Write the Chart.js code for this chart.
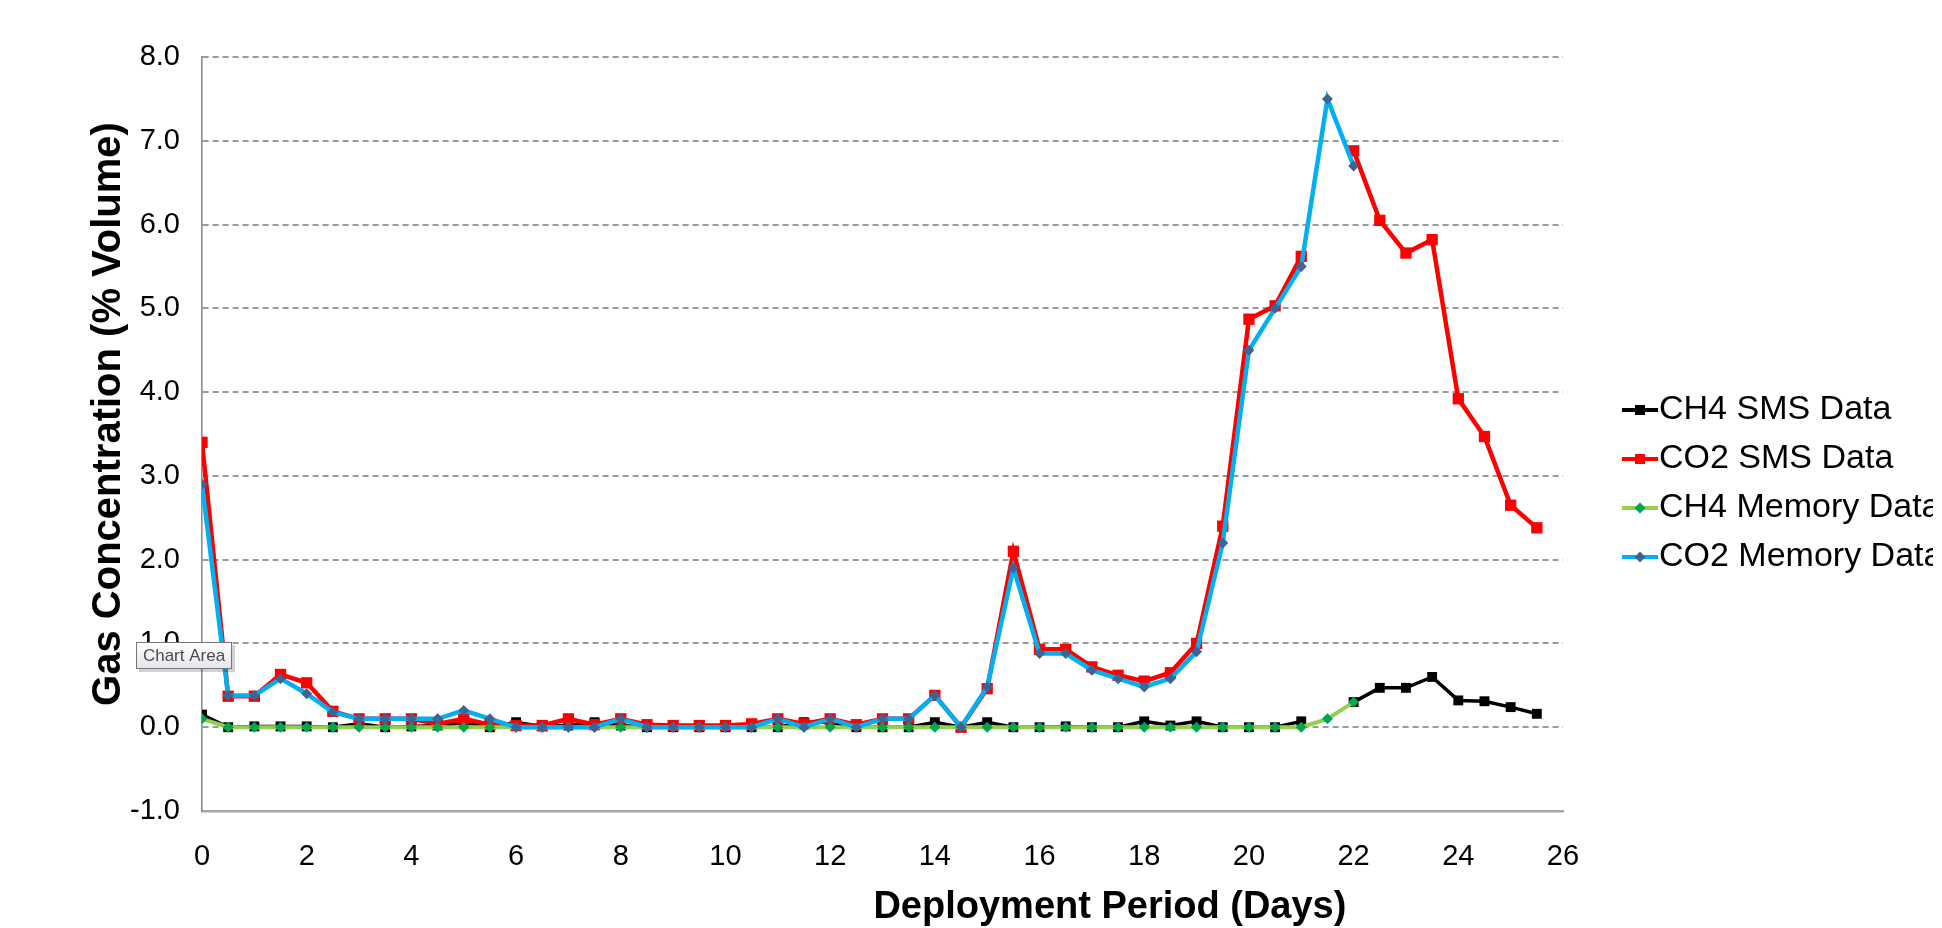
<!DOCTYPE html>
<html lang="en">
<head>
  <meta charset="UTF-8">
  <title>Gas Concentration - Deployment Period</title>
  <script src="https://cdn.jsdelivr.net/npm/chart.js"></script>
  <style>
    html, body { margin: 0; padding: 0; background: #fff; }
    #wrap { width: 1942px; height: 928px; }
  </style>
</head>
<body>
  <div id="wrap"><canvas id="gas-chart" width="1942" height="928"></canvas></div>

  <script>
    // deployment day of each reading
    const days = [0, 0.5, 1, 1.5, 2, 2.5, 3, 3.5, 4, 4.5, 5, 5.5, 6, 6.5, 7, 7.5, 8, 8.5, 9, 9.5,
      10, 10.5, 11, 11.5, 12, 12.5, 13, 13.5, 14, 14.5, 15, 15.5, 16, 16.5, 17, 17.5, 18, 18.5, 19, 19.5,
      20, 20.5, 21, 21.5, 22, 22.5, 23, 23.5, 24, 24.5, 25, 25.5];

    const ch4Sms = [0.15, 0.00, 0.01, 0.01, 0.01, 0.00, 0.04, 0.00, 0.01, 0.02, 0.05, 0.00, 0.06, 0.01, 0.02, 0.06, 0.02, 0.00, 0.00, 0.00,
      0.00, 0.00, 0.00, 0.06, 0.06, 0.00, 0.00, 0.00, 0.06, 0.00, 0.06, 0.00, 0.00, 0.01, 0.00, 0.00, 0.07, 0.02, 0.07, 0.00,
      0.00, 0.00, 0.07, null, 0.30, 0.47, 0.47, 0.60, 0.32, 0.31, 0.24, 0.16];

    const co2Sms = [3.40, 0.37, 0.37, 0.63, 0.53, 0.19, 0.10, 0.10, 0.10, 0.04, 0.10, 0.03, 0.02, 0.02, 0.10, 0.03, 0.10, 0.03, 0.02, 0.02,
      0.02, 0.04, 0.10, 0.04, 0.10, 0.03, 0.10, 0.10, 0.38, 0.00, 0.46, 2.10, 0.93, 0.93, 0.72, 0.62, 0.55, 0.65, 1.00, 2.40,
      4.87, 5.03, 5.62, null, 6.88, 6.05, 5.66, 5.82, 3.92, 3.47, 2.65, 2.38];

    const ch4Memory = [0.10, 0.00, 0.00, 0.00, 0.00, 0.00, 0.00, 0.00, 0.00, 0.00, 0.00, 0.00, 0.00, 0.00, 0.00, 0.00, 0.00, 0.00, 0.00, 0.00,
      0.00, 0.00, 0.00, 0.00, 0.00, 0.00, 0.00, 0.00, 0.00, 0.00, 0.00, 0.00, 0.00, 0.00, 0.00, 0.00, 0.00, 0.00, 0.00, 0.00,
      0.00, 0.00, 0.00, 0.10, 0.30];

    const co2Memory = [2.90, 0.38, 0.38, 0.58, 0.40, 0.18, 0.10, 0.10, 0.10, 0.10, 0.20, 0.10, 0.00, 0.00, 0.00, 0.00, 0.10, 0.00, 0.00, 0.00,
      0.00, 0.00, 0.10, 0.00, 0.10, 0.00, 0.10, 0.10, 0.38, 0.00, 0.48, 1.90, 0.88, 0.88, 0.68, 0.58, 0.48, 0.58, 0.90, 2.20,
      4.50, 5.00, 5.50, 7.50, 6.70];

    const seriesNames = ["CH4 SMS Data", "CO2 SMS Data", "CH4 Memory Data", "CO2 Memory Data"];
    const yTicks = [-1, 0, 1, 2, 3, 4, 5, 6, 7, 8];
    const xTicks = [0, 2, 4, 6, 8, 10, 12, 14, 16, 18, 20, 22, 24, 26];

    const FONT = "'Liberation Sans', Arial, sans-serif";

    function toPoints(values) {
      return values.map((v, i) => ({ x: days[i], y: v }));
    }

    // legend sample: short line with the marker in the middle (Excel style)
    function legendIcon(lineColor, lineWidth, markerColor, shape, size) {
      const c = document.createElement("canvas");
      c.width = 96; c.height = 20;
      const g = c.getContext("2d");
      g.strokeStyle = lineColor;
      g.lineWidth = lineWidth;
      g.beginPath(); g.moveTo(60, 10); g.lineTo(96, 10); g.stroke();
      g.fillStyle = markerColor;
      if (shape === "square") {
        g.fillRect(78 - size / 2, 10 - size / 2, size, size);
      } else {
        g.beginPath();
        g.moveTo(78, 10 - size / 2); g.lineTo(78 + size / 2, 10);
        g.lineTo(78, 10 + size / 2); g.lineTo(78 - size / 2, 10);
        g.closePath(); g.fill();
      }
      return c;
    }

    const icons = [
      legendIcon("#000000", 4, "#000000", "square", 10),
      legendIcon("#ff0000", 4, "#ff0000", "square", 10),
      legendIcon("#92d050", 4, "#00a650", "diamond", 11),
      legendIcon("#00b0f0", 4, "#3e6496", "diamond", 11)
    ];

    // the Excel "Chart Area" hover tip that was captured in the screenshot
    const chartAreaTip = {
      id: "chartAreaTip",
      afterDraw(chart) {
        const ctx = chart.ctx;
        const x = 136, y = 642, w = 96, h = 27;
        ctx.save();
        ctx.fillStyle = "rgba(0,0,0,0.18)";
        ctx.fillRect(x + 3, y + 3, w, h);
        const grad = ctx.createLinearGradient(0, y, 0, y + h);
        grad.addColorStop(0, "#ffffff");
        grad.addColorStop(1, "#e4e5ee");
        ctx.fillStyle = grad;
        ctx.fillRect(x, y, w, h);
        ctx.strokeStyle = "#767676";
        ctx.lineWidth = 1;
        ctx.strokeRect(x + 0.5, y + 0.5, w - 1, h - 1);
        ctx.fillStyle = "#4c4c4c";
        ctx.font = "17px " + FONT;
        ctx.textAlign = "center";
        ctx.textBaseline = "middle";
        ctx.fillText("Chart Area", x + w / 2, y + h / 2 + 1);
        ctx.restore();
      }
    };

    const ctx = document.getElementById("gas-chart").getContext("2d");

    new Chart(ctx, {
      type: "line",
      data: {
        datasets: [
          {
            label: seriesNames[0],
            data: toPoints(ch4Sms),
            borderColor: "#000000",
            backgroundColor: "#000000",
            borderWidth: 3.5,
            pointStyle: "rect",
            pointRadius: 7,
            pointBorderWidth: 0,
            order: 4
          },
          {
            label: seriesNames[1],
            data: toPoints(co2Sms),
            borderColor: "#ff0000",
            backgroundColor: "#ff0000",
            borderWidth: 4.5,
            pointStyle: "rect",
            pointRadius: 8,
            pointBorderWidth: 0,
            order: 3
          },
          {
            label: seriesNames[2],
            data: toPoints(ch4Memory),
            borderColor: "#92d050",
            backgroundColor: "#00a650",
            borderWidth: 4,
            pointStyle: "rectRot",
            pointRadius: 5.5,
            pointBorderWidth: 0,
            order: 2
          },
          {
            label: seriesNames[3],
            data: toPoints(co2Memory),
            borderColor: "#00b0f0",
            backgroundColor: "#3e6496",
            borderWidth: 4.5,
            pointStyle: "rectRot",
            pointRadius: 5.5,
            pointBorderWidth: 0,
            order: 1
          }
        ]
      },
      options: {
        responsive: false,
        animation: false,
        devicePixelRatio: 1,
        spanGaps: false,
        layout: { padding: { top: 57, left: 0, right: 9, bottom: 18 } },
        elements: { line: { tension: 0 } },
        plugins: {
          tooltip: { enabled: false },
          legend: {
            position: "right",
            maxWidth: 370,
            labels: {
              usePointStyle: true,
              pointStyleWidth: 64,
              padding: 15,
              color: "#000000",
              font: { family: FONT, size: 34 },
              sort: (a, b) => a.datasetIndex - b.datasetIndex,
              generateLabels(chart) {
                const items = Chart.defaults.plugins.legend.labels.generateLabels(chart);
                items.forEach(it => { it.pointStyle = icons[it.datasetIndex]; });
                return items;
              }
            }
          }
        },
        scales: {
          x: {
            type: "linear",
            min: 0,
            max: 26,
            afterBuildTicks(scale) { scale.ticks = xTicks.map(v => ({ value: v })); },
            afterFit(scale) { scale.height = 99; },
            grid: { display: false, drawTicks: false },
            border: { display: true, color: "#a6a6a6", width: 2.5 },
            ticks: {
              padding: 29,
              color: "#000000",
              font: { family: FONT, size: 29 },
              maxRotation: 0,
              autoSkip: false
            },
            title: {
              display: true,
              align: "end",
              // trailing spaces pull the title left of the axis end, as in the original
              text: "Deployment Period (Days)\u2003\u2003\u2003\u2003\u2003\u2002\u2009",
              color: "#000000",
              font: { family: FONT, size: 38, weight: "bold" },
              padding: { top: 0, bottom: -20 }
            }
          },
          y: {
            min: -1,
            max: 8,
            afterBuildTicks(scale) { scale.ticks = yTicks.map(v => ({ value: v })); },
            afterFit(scale) { scale.width = 202; },
            grid: { color: "#9a9a9a", lineWidth: 2, drawTicks: false },
            border: { display: true, color: "#8c8c8c", width: 1.6, dash: [6, 4] },
            ticks: {
              padding: 22,
              color: "#000000",
              font: { family: FONT, size: 29 },
              callback: v => v.toFixed(1)
            },
            title: {
              display: true,
              // leading spaces nudge the title slightly above the axis middle
              text: "\u2002\u2002Gas Concentration (% Volume)",
              color: "#000000",
              font: { family: FONT, size: 40, weight: "bold" },
              padding: { top: 85, bottom: 0 }
            }
          }
        }
      },
      plugins: [chartAreaTip]
    });
  </script>
</body>
</html>
